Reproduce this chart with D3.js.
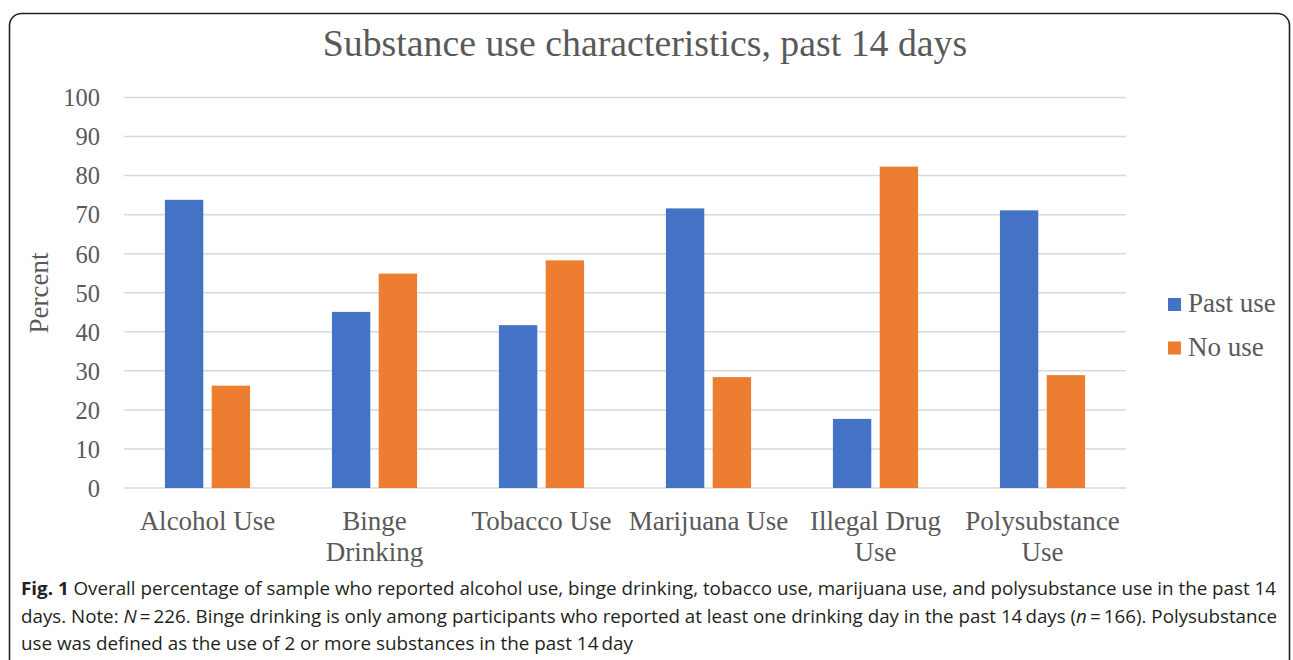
<!DOCTYPE html>
<html>
<head>
<meta charset="utf-8">
<script src="https://cdn.jsdelivr.net/npm/d3@7"></script>
<style>
  body { margin: 0; background: #fff; }
  svg { display: block; }
</style>
</head>
<body>
<div id="chart"></div>
<script>
// data
const categories = [["Alcohol Use"], ["Binge", "Drinking"], ["Tobacco Use"], ["Marijuana Use"], ["Illegal Drug", "Use"], ["Polysubstance", "Use"]];
const seriesNames = ["Past use", "No use"];
const pastUse = [73.8, 45.1, 41.7, 71.6, 17.7, 71.1];
const noUse = [26.2, 54.9, 58.3, 28.4, 82.3, 28.9];
const yTicks = [0, 10, 20, 30, 40, 50, 60, 70, 80, 90, 100];
const colors = ["#4472C4", "#ED7D31"];

var W = 1293, H = 660;
var serif = "'Liberation Serif', 'Times New Roman', serif";
var textColor = "#595959";

var svg = d3.select("#chart").append("svg")
    .attr("width", W)
    .attr("height", H);

// rounded frame around the figure
svg.append("rect")
    .attr("x", 9.5).attr("y", 13.5)
    .attr("width", 1280).attr("height", 720)
    .attr("rx", 12)
    .attr("fill", "none")
    .attr("stroke", "#222")
    .attr("stroke-width", 1.6);

var plotLeft = 124, plotRight = 1126, plotTop = 97.5, plotBottom = 488;

var x0 = d3.scaleBand()
    .domain(d3.range(categories.length))
    .range([plotLeft, plotRight])
    .paddingInner(0.49)
    .paddingOuter(0.245);

var x1 = d3.scaleBand()
    .domain(d3.range(seriesNames.length))
    .range([0, x0.bandwidth()])
    .paddingInner(0.18);

var y = d3.scaleLinear()
    .domain([0, 100])
    .range([plotBottom, plotTop]);

// gridlines
svg.append("g")
    .selectAll("line")
    .data(yTicks)
    .enter().append("line")
    .attr("x1", plotLeft).attr("x2", plotRight)
    .attr("y1", d => y(d)).attr("y2", d => y(d))
    .attr("stroke", "#d9d9d9")
    .attr("stroke-width", 1.5);

// y axis labels
var yAxis = svg.append("g")
    .attr("transform", "translate(" + (plotLeft - 10) + ",0)")
    .call(d3.axisLeft(y).tickValues(yTicks).tickSize(0).tickPadding(14));
yAxis.select(".domain").remove();
yAxis.selectAll("text")
    .attr("font-family", serif)
    .attr("font-size", 24.5)
    .attr("fill", textColor)
    .attr("dy", "0.34em");

// bars
var rows = categories.map((c, i) => [pastUse[i], noUse[i]]);
var groups = svg.append("g")
    .selectAll("g")
    .data(rows)
    .enter().append("g")
    .attr("transform", (d, i) => "translate(" + x0(i) + ",0)");

groups.selectAll("rect")
    .data(d => d)
    .enter().append("rect")
    .attr("x", (d, j) => x1(j))
    .attr("width", x1.bandwidth())
    .attr("y", d => y(d))
    .attr("height", d => y(0) - y(d))
    .attr("fill", (d, j) => colors[j]);

// category labels
var xLabels = svg.append("g")
    .selectAll("text")
    .data(categories)
    .enter().append("text")
    .attr("x", (d, i) => x0(i) + x0.bandwidth() / 2)
    .attr("y", 530)
    .attr("text-anchor", "middle")
    .attr("font-family", serif)
    .attr("font-size", 27)
    .attr("fill", textColor);
xLabels.selectAll("tspan")
    .data(d => d)
    .enter().append("tspan")
    .attr("x", function() { return d3.select(this.parentNode).attr("x"); })
    .attr("dy", (d, i) => i === 0 ? 0 : 31)
    .text(d => d);

// title
svg.append("text")
    .attr("x", 645)
    .attr("y", 56)
    .attr("text-anchor", "middle")
    .attr("font-family", serif)
    .attr("font-size", 37.8)
    .attr("fill", textColor)
    .text("Substance use characteristics, past 14 days");

// y axis title
svg.append("text")
    .attr("transform", "translate(48,293) rotate(-90)")
    .attr("text-anchor", "middle")
    .attr("font-family", serif)
    .attr("font-size", 27)
    .attr("fill", textColor)
    .text("Percent");

// legend
var legend = svg.append("g")
    .selectAll("g")
    .data(seriesNames)
    .enter().append("g")
    .attr("transform", (d, i) => "translate(1168," + (298 + i * 43.5) + ")");
legend.append("rect")
    .attr("width", 13).attr("height", 13)
    .attr("fill", (d, i) => colors[i]);
legend.append("text")
    .attr("x", 20).attr("y", 14)
    .attr("font-family", serif)
    .attr("font-size", 27)
    .attr("fill", textColor)
    .text(d => d);

// caption
var sans = "'Open Sans', 'Noto Sans', sans-serif";
var cap = svg.append("g")
    .attr("font-family", sans)
    .attr("font-size", 17.5)
    .attr("fill", "#231f20");

var l1 = cap.append("text").attr("x", 21).attr("y", 595)
    .attr("textLength", 1255).attr("lengthAdjust", "spacingAndGlyphs");
l1.append("tspan").attr("font-weight", "bold").text("Fig. 1");
l1.append("tspan").text(" Overall percentage of sample who reported alcohol use, binge drinking, tobacco use, marijuana use, and polysubstance use in the past 14");

var l2 = cap.append("text").attr("x", 21).attr("y", 623)
    .attr("textLength", 1256).attr("lengthAdjust", "spacingAndGlyphs");
l2.append("tspan").text("days. Note: ");
l2.append("tspan").attr("font-style", "italic").text("N");
l2.append("tspan").text("\u2009=\u2009226. Binge drinking is only among participants who reported at least one drinking day in the past 14\u2009days (");
l2.append("tspan").attr("font-style", "italic").text("n");
l2.append("tspan").text("\u2009=\u2009166). Polysubstance");

cap.append("text").attr("x", 21).attr("y", 650)
    .attr("textLength", 612).attr("lengthAdjust", "spacingAndGlyphs")
    .text("use was defined as the use of 2 or more substances in the past 14\u2009day");
</script>
</body>
</html>
